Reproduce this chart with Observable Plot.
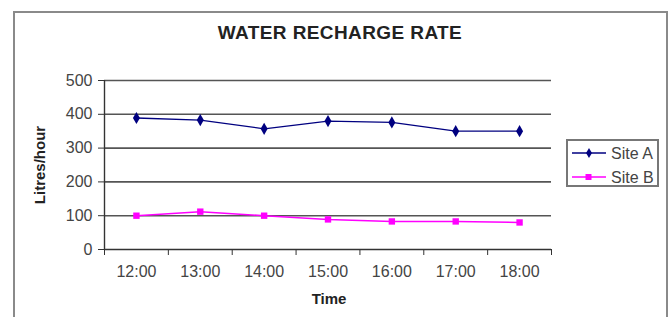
<!DOCTYPE html>
<html>
<head>
<meta charset="utf-8">
<script src="https://cdn.jsdelivr.net/npm/d3@7"></script>
<script src="https://cdn.jsdelivr.net/npm/@observablehq/plot@0.6"></script>
<style>
  html, body { margin: 0; padding: 0; background: #fff; }
  #wrap { position: relative; width: 672px; height: 317px; overflow: hidden; font-family: "Liberation Sans", Arial, sans-serif; }
  #frame { position: absolute; left: 13px; top: 11px; width: 651px; height: 330px; border: 2px solid #8a8a8a; box-sizing: content-box; }
  #title { position: absolute; left: 0; width: 680px; top: 22px; text-align: center; font-weight: bold; font-size: 19px; color: #222; letter-spacing: 0.4px; }
  #ylab { position: absolute; left: 39px; top: 165px; transform: translate(-50%, -50%) rotate(-90deg); font-weight: bold; font-size: 15px; color: #222; white-space: nowrap; }
  #xlab { position: absolute; left: 329px; top: 298px; transform: translate(-50%, -50%); font-weight: bold; font-size: 15px; color: #222; }
  #legend { position: absolute; left: 566px; top: 139px; width: 93px; height: 48px; border: 2px solid #777; box-sizing: border-box; }
  #plot { position: absolute; left: 0; top: 0; }
</style>
</head>
<body>
<div id="wrap">
  <div id="frame"></div>
  <div id="plot"></div>
  <div id="title">WATER RECHARGE RATE</div>
  <div id="ylab">Litres/hour</div>
  <div id="xlab">Time</div>
  <div id="legend"></div>
</div>
<script>
const times = ["12:00", "13:00", "14:00", "15:00", "16:00", "17:00", "18:00"];
const siteA = [389, 383, 357, 380, 376, 350, 350];
const siteB = [100, 112, 100, 89, 83, 83, 80];
const yTicks = [0, 100, 200, 300, 400, 500];
const seriesNames = ["Site A", "Site B"];
const seriesColors = ["#000080", "#ff00ff"];

const idx = times.map((_, i) => i);
const bounds = d3.range(-0.5, times.length, 1);
const rowsA = idx.map(i => ({i, v: siteA[i]}));
const rowsB = idx.map(i => ({i, v: siteB[i]}));

const chart = Plot.plot({
  width: 672,
  height: 317,
  marginTop: 80,
  marginBottom: 68,
  marginLeft: 104,
  marginRight: 121,
  style: {fontFamily: "Liberation Sans, Arial, sans-serif", background: "transparent"},
  x: {type: "linear", domain: [-0.5, times.length - 0.5]},
  y: {domain: [0, 500]},
  marks: [
    Plot.ruleY(yTicks.filter(d => d > 0), {stroke: "#555", strokeWidth: 1.6}),
    Plot.axisY({ticks: yTicks, tickSize: 6, tickPadding: 6, fontSize: 16, color: "#444", stroke: "#333", label: null}),
    Plot.axisX({ticks: idx, tickSize: 0, tickPadding: 16, tickFormat: i => times[i], fontSize: 16, color: "#444", label: null}),
    Plot.axisX({ticks: bounds, tickSize: 6, tickFormat: () => "", stroke: "#333", label: null}),
    Plot.ruleY([0], {stroke: "#333", strokeWidth: 1.4}),
    Plot.ruleX([-0.5], {y1: 0, y2: 500, stroke: "#333", strokeWidth: 1.4}),
    Plot.line(rowsA, {x: "i", y: "v", stroke: seriesColors[0], strokeWidth: 1.3}),
    Plot.dot(rowsA, {x: "i", y: "v", symbol: "diamond", fill: seriesColors[0], r: 3.7, stroke: "none"}),
    Plot.line(rowsB, {x: "i", y: "v", stroke: seriesColors[1], strokeWidth: 1.5}),
    Plot.dot(rowsB, {x: "i", y: "v", symbol: "square", fill: seriesColors[1], r: 3.6, stroke: "none"})
  ]
});
document.getElementById("plot").appendChild(chart);

// legend
const lsvg = d3.create("svg").attr("width", 89).attr("height", 44).style("position", "absolute").style("left", "0").style("top", "0");
seriesNames.forEach((name, k) => {
  const y = 12 + k * 24;
  lsvg.append("line").attr("x1", 4).attr("x2", 38).attr("y1", y).attr("y2", y).attr("stroke", seriesColors[k]).attr("stroke-width", 1.3);
  if (k === 0) {
    lsvg.append("path").attr("d", d3.symbol(d3.symbolDiamond, 30)()).attr("transform", `translate(21,${y})`).attr("fill", seriesColors[k]);
  } else {
    lsvg.append("rect").attr("x", 17.5).attr("y", y - 3).attr("width", 6).attr("height", 6).attr("fill", seriesColors[k]);
  }
  lsvg.append("text").attr("x", 43).attr("y", y).attr("dy", "0.35em").attr("font-size", 16).attr("fill", "#444")
    .attr("font-family", "Liberation Sans, Arial, sans-serif").text(name);
});
document.getElementById("legend").appendChild(lsvg.node());
</script>
</body>
</html>
